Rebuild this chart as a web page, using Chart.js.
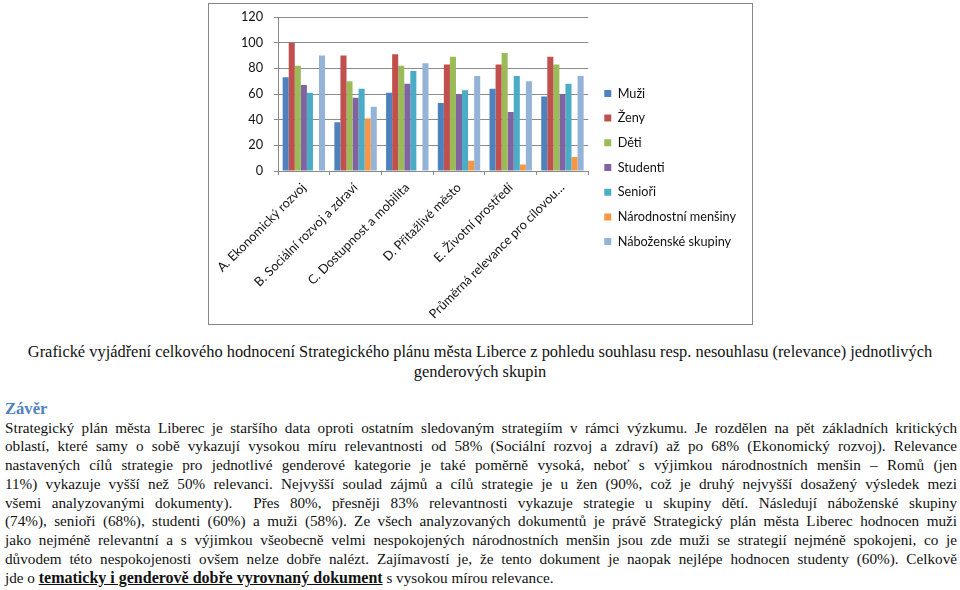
<!DOCTYPE html>
<html lang="cs">
<head>
<meta charset="utf-8">
<title>Relevance Strategického plánu města Liberce</title>
<script src="https://cdn.jsdelivr.net/npm/chart.js@4.4.1/dist/chart.umd.min.js"></script>
<style>
  html, body { margin: 0; padding: 0; background: #fff; }
  body { width: 960px; height: 590px; position: relative; overflow: hidden; }
  #box { position: absolute; left: 208px; top: 3px; width: 545px; height: 322px;
         border: 1px solid #868686; box-sizing: border-box; }
  #box canvas { display: block; }
  .caption { position: absolute; left: 0; width: 960px; top: 342px; text-align: center;
             font-family: "Liberation Serif", "Times New Roman", serif; font-size: 16.4px; line-height: 20px; color: #111; }
  .heading { position: absolute; left: 5px; top: 400px; font-family: "Liberation Serif", serif;
             font-weight: bold; font-size: 16.6px; line-height: 18px; color: #4f81bd; }
  .para { position: absolute; left: 5px; width: 952px; top: 418.6px;
          font-family: "Liberation Serif", "Times New Roman", serif; font-size: 15.2px; line-height: 18.75px; color: #111; }
  .para div { text-align: justify; text-align-last: justify; white-space: nowrap; }
  .para div.last { text-align-last: left; }
  .para b { text-decoration: underline; font-size: 16px; }
</style>
</head>
<body>
<div id="box"><canvas id="relChart" width="543" height="320"></canvas></div>

<div class="caption">Grafické vyjádření celkového hodnocení Strategického plánu města Liberce z pohledu souhlasu resp. nesouhlasu (relevance) jednotlivých<br>genderových skupin</div>

<div class="heading">Závěr</div>

<div class="para">
  <div>Strategický plán města Liberec je staršího data oproti ostatním sledovaným strategiím v rámci výzkumu. Je rozdělen na pět základních kritických</div>
  <div>oblastí, které samy o sobě vykazují vysokou míru relevantnosti od 58% (Sociální rozvoj a zdraví) až po 68% (Ekonomický rozvoj). Relevance</div>
  <div>nastavených cílů strategie pro jednotlivé genderové kategorie je také poměrně vysoká, neboť s výjimkou národnostních menšin – Romů (jen</div>
  <div>11%) vykazuje vyšší než 50% relevanci. Nejvyšší soulad zájmů a cílů strategie je u žen (90%, což je druhý nejvyšší dosažený výsledek mezi</div>
  <div>všemi analyzovanými dokumenty).&nbsp; Přes 80%, přesněji 83% relevantnosti vykazuje strategie u skupiny dětí. Následují náboženské skupiny</div>
  <div>(74%), senioři (68%), studenti (60%) a muži (58%). Ze všech analyzovaných dokumentů je právě Strategický plán města Liberec hodnocen muži</div>
  <div>jako nejméně relevantní a s výjimkou všeobecně velmi nespokojených národnostních menšin jsou zde muži se strategií nejméně spokojeni, co je</div>
  <div>důvodem této nespokojenosti ovšem nelze dobře nalézt. Zajímavostí je, že tento dokument je naopak nejlépe hodnocen studenty (60%). Celkově</div>
  <div class="last">jde o <b>tematicky i genderově dobře vyrovnaný dokument</b> s vysokou mírou relevance.</div>
</div>

<script>
// data
const categories = [
  "A. Ekonomický rozvoj",
  "B. Sociální rozvoj a zdraví",
  "C. Dostupnost a mobilita",
  "D. Přitažlivé město",
  "E. Životní prostředí",
  "Průměrná relevance pro cílovou…"
];
const muzi        = [73, 38, 61, 53, 64, 58];
const zeny        = [100, 90, 91, 83, 83, 89];
const deti        = [82, 70, 82, 89, 92, 83];
const studenti    = [67, 57, 68, 60, 46, 60];
const seniori     = [61, 64, 78, 63, 74, 68];
const narodnostni = [0, 41, 0, 8, 5, 11];
const nabozenske  = [90, 50, 84, 74, 70, 74];
const yTicks = [0, 20, 40, 60, 80, 100, 120];

const seriesNames = ["Muži", "Ženy", "Děti", "Studenti", "Senioři", "Národnostní menšiny", "Náboženské skupiny"];
const seriesData = [muzi, zeny, deti, studenti, seniori, narodnostni, nabozenske];
const colors = ["#4f81bd", "#c0504d", "#9bbb59", "#8064a2", "#4bacc6", "#f79646", "#95b3d7"];

const font = { family: "Lato, 'Open Sans', sans-serif", size: 12.7 };
const gridColor = "#8a8a8a";

// the layout caps a right-hand legend at a quarter of the width, which cuts the long labels
const LegendEl = (Chart.Legend && Chart.Legend._element) || null;
if (LegendEl) {
  const origUpdate = LegendEl.prototype.update;
  LegendEl.prototype.update = function (maxWidth, maxHeight, margins) {
    return origUpdate.call(this, Math.max(maxWidth, 170), maxHeight, margins);
  };
}

// small nudge so the legend sits a bit further from the plot, like Excel does
const legendNudge = {
  id: 'legendNudge',
  afterLayout(chart) {
    if (!chart.legend) return;
    chart.legend.left += 4;
    chart.legend.right += 4;
    chart.legend.top -= 3;
    chart.legend.bottom -= 3;
  }
};

const ctx = document.getElementById('relChart').getContext('2d');
new Chart(ctx, {
  type: 'bar',
  data: {
    labels: categories,
    datasets: seriesNames.map((name, i) => ({
      label: name,
      data: seriesData[i],
      backgroundColor: colors[i],
      borderWidth: 0,
      categoryPercentage: 0.82,
      barPercentage: 1.0
    }))
  },
  options: {
    responsive: false,
    animation: false,
    layout: { padding: { top: 13, right: 10, left: 0, bottom: 0 } },
    plugins: {
      tooltip: { enabled: false },
      legend: {
        position: 'right',
        labels: { boxWidth: 7, boxHeight: 7, padding: 12, color: '#111', font: font }
      }
    },
    scales: {
      x: {
        ticks: { maxRotation: 45, minRotation: 45, autoSkip: false, color: '#111', font: font, padding: 5 },
        grid: { display: true, drawOnChartArea: false, drawTicks: true, tickLength: 4, color: gridColor, offset: true },
        border: { display: true, color: gridColor },
        afterFit: s => { s.height = 153; }
      },
      y: {
        min: 0,
        max: 120,
        afterBuildTicks: s => { s.ticks = yTicks.map(v => ({ value: v })); },
        ticks: { color: '#111', font: font, padding: 11 },
        grid: { color: gridColor, tickLength: 4 },
        border: { display: true, color: gridColor },
        afterFit: s => { s.width = 67; s.paddingTop = 0; s.paddingBottom = 0; }
      }
    }
  },
  plugins: [legendNudge]
});
</script>
</body>
</html>
